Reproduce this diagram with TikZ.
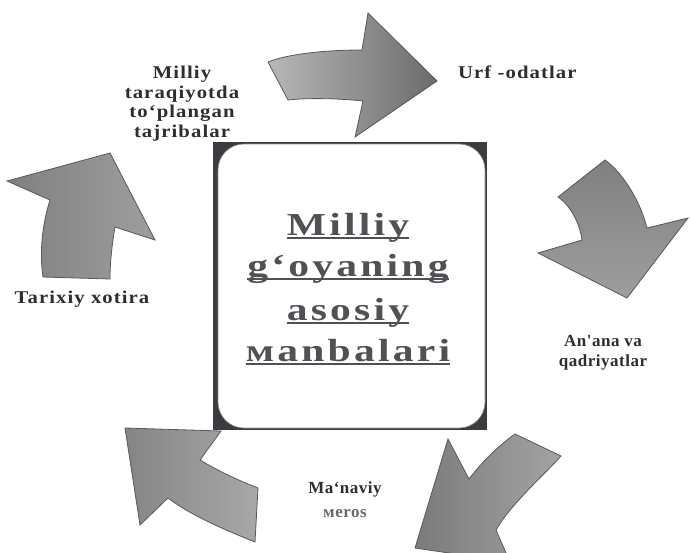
\documentclass[tikz,border=0pt]{standalone}
\usepackage{fontspec}
\setmainfont{Liberation Serif}
\newfontfamily\titlefont{Liberation Serif}[FakeStretch=1.3,LetterSpace=10]
\newfontfamily\labfontA{Liberation Serif}[FakeStretch=1.15,LetterSpace=6]
\newfontfamily\labfontB{Liberation Serif}[LetterSpace=3]
\definecolor{titlecol}{HTML}{505055}
\definecolor{labcol}{HTML}{2E2E32}
\definecolor{meroscol}{HTML}{6A6A6E}
\definecolor{arrline}{HTML}{58585C}
\definecolor{boxdark}{HTML}{3C3C40}
\newcommand\tul[1]{\setbox0=\hbox{#1}\rlap{\copy0}\rule[-4pt]{\wd0}{1.8pt}}
\begin{document}
\begin{tikzpicture}[x=1pt,y=-1pt,
  arr/.style={draw=arrline, line width=0.8pt, line join=miter},
  labA/.style={text=labcol, font=\labfontA\bfseries\fontsize{18}{20}\selectfont, inner sep=0pt, anchor=base},
  labB/.style={text=labcol, font=\labfontB\bfseries\fontsize{17}{20}\selectfont, inner sep=0pt, anchor=base},
  ttl/.style={text=titlecol, font=\titlefont\bfseries\fontsize{32}{40}\selectfont, inner sep=0pt, anchor=base}]
\useasboundingbox (0,0) rectangle (690,552);
\fill[white] (0,0) rectangle (690,552);
% arrow 1 (top)
\shade[arr, left color=black!28, right color=black!58]
  (268,62) .. controls (285,55) and (320,50) .. (362,50) -- (368,13) -- (437,81) -- (355,137) -- (363,101)
  .. controls (335,98) and (305,98) .. (288,100) -- cycle;
% arrow 2 (right)
\shade[arr, top color=black!50, bottom color=black!38]
  (558,197) -- (605,160) .. controls (622,172) and (640,200) .. (647,228) -- (688,218) -- (627,298) -- (538,253) -- (582,240)
  .. controls (580,225) and (572,207) .. cycle;
% arrow 3 (bottom right)
\shade[arr, left color=black!52, right color=black!36]
  (515,434) -- (561,456) .. controls (545,474) and (510,505) .. (496,530) -- (510,562) -- (415,548) -- (448,439) -- (469,479)
  .. controls (482,462) and (498,446) .. cycle;
% arrow 4 (bottom left)
\shade[arr, left color=black!48, right color=black!34]
  (125,428) -- (221,431) -- (200,460) .. controls (220,472) and (240,481) .. (258,488) -- (255,542)
  .. controls (225,530) and (190,515) .. (168,498) -- (140,525) -- cycle;
% arrow 5 (left)
\shade[arr, left color=black!50, right color=black!38]
  (110,153) -- (155,240) -- (115,227) .. controls (112,245) and (110,262) .. (110,279) -- (43,277)
  .. controls (39,250) and (43,222) .. (50,200) -- (7,181) -- cycle;
% labels
\node[labA] (m1) at (182,78) {Milliy};
\node[labA] (m2) at (182,98) {taraqiyotda};
\node[labA] (m3) at (182,117) {to‘plangan};
\node[labA] (m4) at (182,137) {tajribalar};
\node[labA, anchor=base west] (urf) at (458,78) {Urf -odatlar};
\node[labB] (an1) at (603,346) {An'ana va};
\node[labB] (an2) at (603,366) {qadriyatlar};
\node[labB] (mn1) at (345,493) {Ma‘naviy};
\node[labB, text=meroscol] (mn2) at (345,517) {мeros};
\node[labA] (tx) at (82,303) {Tarixiy xotira};
% central box
\fill[boxdark] (213,142) rectangle (487,430);
\filldraw[fill=white, draw=black!45, line width=0.6pt, rounded corners=26pt] (218,144) rectangle (485,428);
\node[ttl] (t1) at (348,235) {\tul{Milliy}};
\node[ttl] (t2) at (348,276) {\tul{g‘oyaning}};
\node[ttl] (t3) at (348,320) {\tul{asosiy}};
\node[ttl] (t4) at (348,361) {\tul{мanbalari}};
\end{tikzpicture}
\end{document}
